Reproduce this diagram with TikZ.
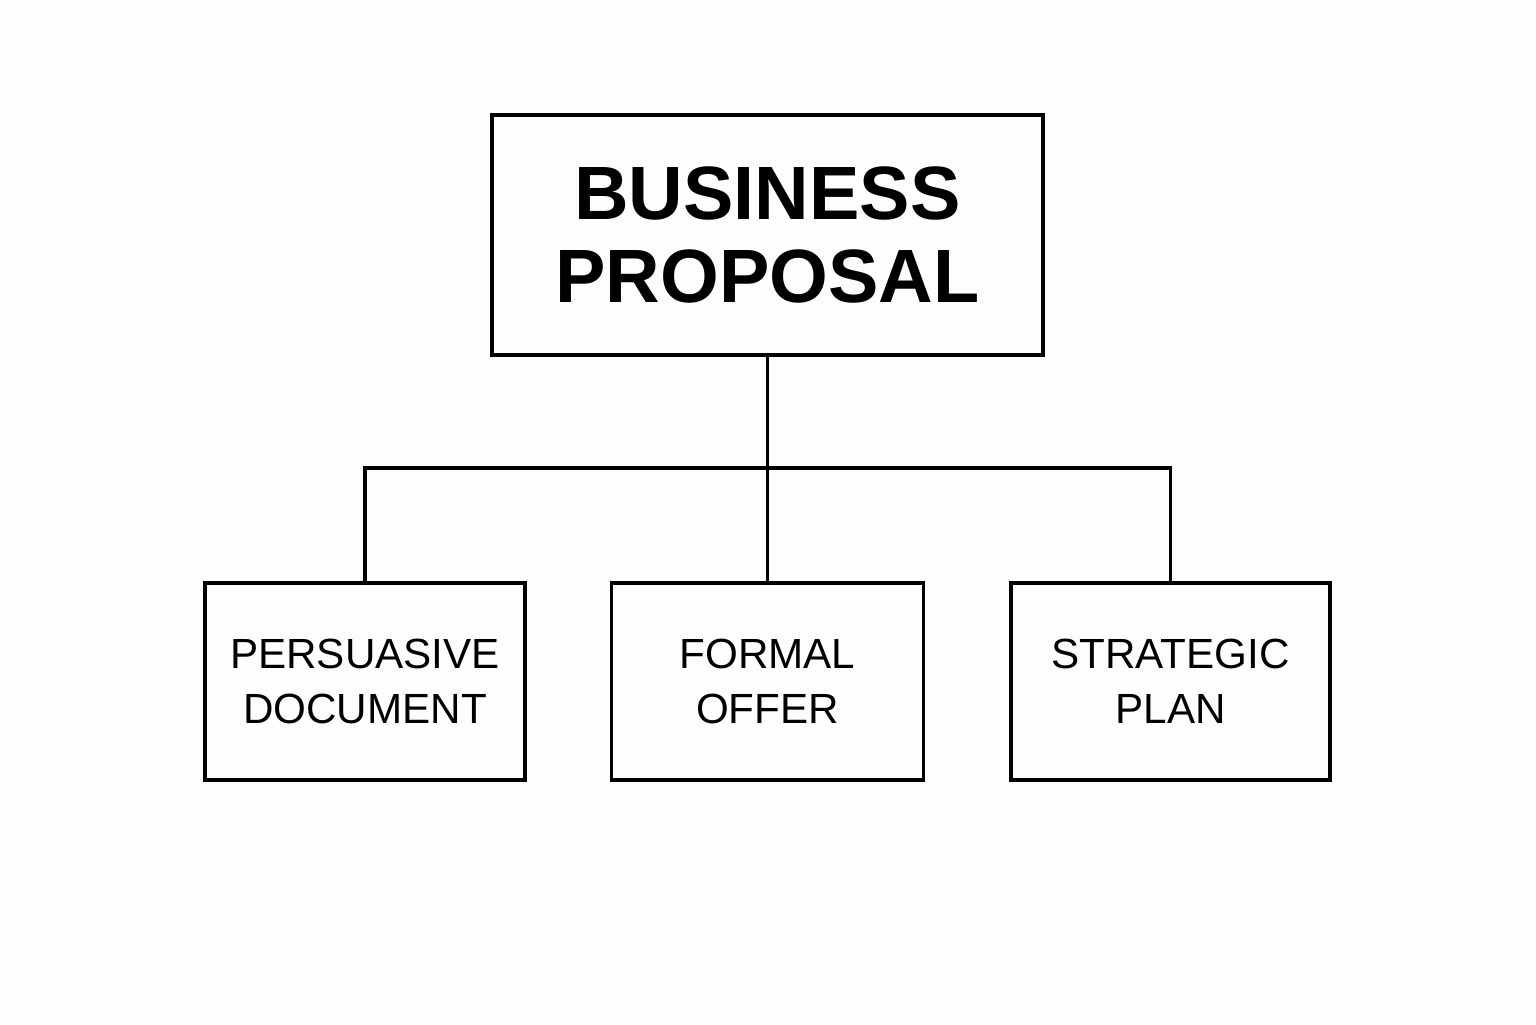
\documentclass[tikz,border=0pt]{standalone}
\usepackage{fontspec}
\setmainfont{Liberation Sans}
\definecolor{paper}{RGB}{253,253,251}
\begin{document}
\begin{tikzpicture}[
        box/.style={draw, line width=1.1pt, inner sep=0pt, align=center},
        link/.style={line width=1.1pt}
    ]
            \fill[paper] (0, 0) rectangle (15.36, 10.24);
            \useasboundingbox (0, 0) rectangle (15.36, 10.24);

            \node[box, minimum width=5.51cm, minimum height=2.40cm,
                  font=\bfseries\fontsize{21.5}{23.5}\selectfont]
                (prop) at (7.675, 7.89) {BUSINESS\\PROPOSAL};

            \node[box, minimum width=3.20cm, minimum height=1.97cm,
                  font=\fontsize{12}{15.6}\selectfont]
                (doc) at (3.65, 3.425) {PERSUASIVE\\DOCUMENT};
            \node[box, minimum width=3.12cm, minimum height=1.97cm,
                  font=\fontsize{12}{15.6}\selectfont]
                (offer) at (7.675, 3.425) {FORMAL\\OFFER};
            \node[box, minimum width=3.19cm, minimum height=1.97cm,
                  font=\fontsize{12}{15.6}\selectfont]
                (plan) at (11.705, 3.425) {STRATEGIC\\PLAN};

            \coordinate (bar) at (7.675, 5.56);

            \draw[link] (prop.south) to (bar);
            \draw[link] (doc.north) |- (bar) -| (plan.north);
            \draw[link] (bar) to (offer.north);
\end{tikzpicture}
\end{document}
